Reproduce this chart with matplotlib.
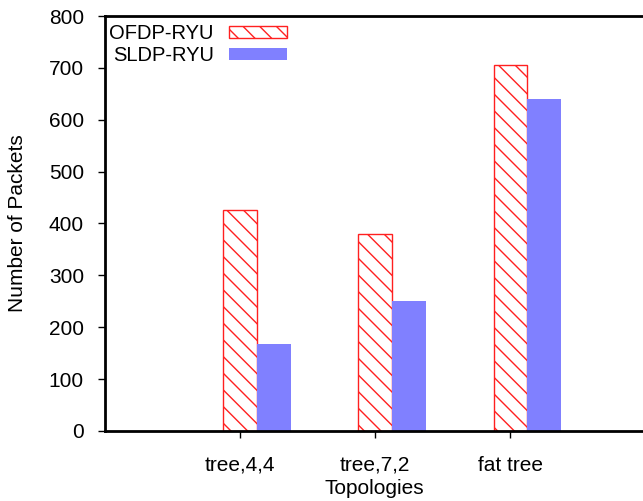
import numpy as np
import matplotlib.pyplot as plt

plt.rcParams['font.family'] = ['Liberation Sans', 'DejaVu Sans']
plt.rcParams['hatch.color'] = '#ff2020'
plt.rcParams['hatch.linewidth'] = 1.0

# data
topologies = ['tree,4,4', 'tree,7,2', 'fat tree']
ofdp_ryu = [425, 380, 705]
sldp_ryu = [168, 250, 640]

x = np.arange(len(topologies))
w = 0.25

fig = plt.figure(figsize=(6.43, 5.01), dpi=100)
ax = fig.add_axes([0.163, 0.140, 0.837, 0.828])

ax.bar(x, ofdp_ryu, w, color='white', edgecolor='#ff2020', hatch='\\\\',
       lw=1, label='OFDP-RYU')
ax.bar(x + w, sldp_ryu, w, color='#8080ff', lw=0, label='SLDP-RYU')

ax.set_xlim(-1, 2.98)
ax.set_ylim(0, 800)
ax.set_xticks(x)
ax.set_xticklabels(topologies)
ax.set_yticks(np.arange(0, 801, 100))
ax.tick_params(axis='both', direction='out', length=5, width=1, labelsize=15, colors='black')
ax.tick_params(axis='x', pad=13)
ax.tick_params(axis='y', pad=10)

for s in ('left', 'bottom', 'top'):
    ax.spines[s].set_linewidth(2)
ax.spines['right'].set_visible(False)

ax.set_xlabel('Topologies', fontsize=15, labelpad=3)
ax.set_ylabel('Number of Packets', fontsize=15, labelpad=16)

leg = ax.legend(loc='upper left', frameon=False, markerfirst=False, fontsize=14.5,
                handlelength=2.9, handleheight=0.5, labelspacing=0.15,
                handletextpad=0.75, borderpad=0.1,
                bbox_to_anchor=(0.003, 0.988), borderaxespad=0.05)

fig.savefig('out.png', dpi=100)
